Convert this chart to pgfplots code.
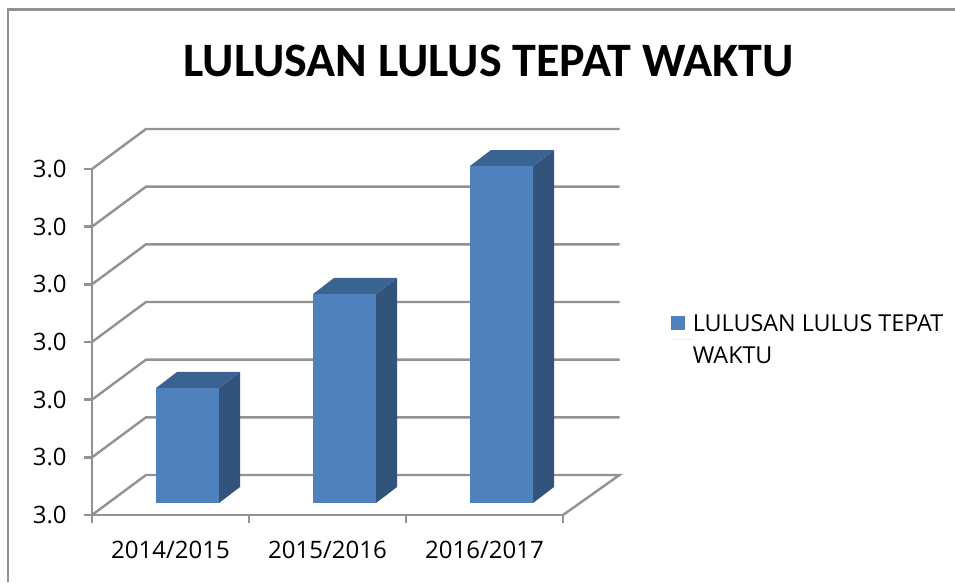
\documentclass[border=0pt]{standalone}
\usepackage{pgfplots}
\pgfplotsset{compat=1.18}
\usepackage{fontspec}
\setmainfont{Open Sans}
\newfontfamily\titlefont{Carlito}
\definecolor{barfront}{HTML}{4F81BD}
\definecolor{barside}{HTML}{32547C}
\definecolor{bartop}{HTML}{3B6391}
\definecolor{gridgray}{HTML}{929292}
\begin{document}
\begin{tikzpicture}
\useasboundingbox (0,0) rectangle (716.25pt,436.5pt);
\fill[white] (0,0) rectangle (716.25pt,436.5pt);
\draw[gridgray,line width=1.9pt] (6pt,0) -- (6pt,429.5pt) -- (716.25pt,429.5pt);
\node[font=\titlefont\bfseries\fontsize{36}{40}\selectfont,anchor=center] at (366.5pt,390.5pt) {LULUSAN LULUS TEPAT WAKTU};
\begin{axis}[
  at={(69pt,50.25pt)},anchor=south west,
  scale only axis,width=353.25pt,height=259.5pt,
  xmin=0,xmax=3,ymin=2.97,ymax=3.03,
  clip=false,
  axis lines=left,
  axis line style={-,gridgray,line width=1.8pt},
  tick style={gridgray,line width=1.8pt},
  tick align=outside,
  major tick length=6pt,
  minor tick length=6pt,
  xtick={0.5,1.5,2.5},
  xticklabels={2014/2015,2015/2016,2016/2017},
  minor xtick={0,1,2,3},
  x tick style={draw=none},
  minor x tick style={draw=gridgray,line width=1.8pt},
  ytick={2.97,2.98,2.99,3.00,3.01,3.02,3.03},
  /pgf/number format/assume math mode=true,
  yticklabel style={/pgf/number format/fixed,/pgf/number format/fixed zerofill,/pgf/number format/precision=1,xshift=-9.5pt,font=\fontsize{18}{20}\selectfont},
  xticklabel style={font=\fontsize{18}{20}\selectfont,yshift=-10pt,xshift=0pt},
  legend style={at={(axis cs:3.685,3.0004)},anchor=west,draw=none,fill=none,inner sep=0pt,
    nodes={align=left,font=\fontsize{17.5}{24}\selectfont,inner sep=0pt}},
  legend image code/.code={\fill[barfront] (0pt,7pt) rectangle (10.5pt,17.5pt);\path (0pt,0pt) -- (16.5pt,0pt);},
]
% walls and floor: gridlines
\addplot[forget plot,gridgray,line width=1.8pt] coordinates {(0,2.97) (0.344,2.97694) (3.36,2.97694) (3,2.97)};
\addplot[forget plot,gridgray,line width=1.8pt] coordinates {(0,2.98) (0.344,2.98694) (3.36,2.98694)};
\addplot[forget plot,gridgray,line width=1.8pt] coordinates {(0,2.99) (0.344,2.99694) (3.36,2.99694)};
\addplot[forget plot,gridgray,line width=1.8pt] coordinates {(0,3.00) (0.344,3.00694) (3.36,3.00694)};
\addplot[forget plot,gridgray,line width=1.8pt] coordinates {(0,3.01) (0.344,3.01694) (3.36,3.01694)};
\addplot[forget plot,gridgray,line width=1.8pt] coordinates {(0,3.02) (0.344,3.02694) (3.36,3.02694)};
\addplot[forget plot,gridgray,line width=1.8pt] coordinates {(0,3.03) (0.344,3.03694) (3.36,3.03694)};
% bar 1
\addplot[forget plot,fill=barside,draw=none] coordinates {(0.809,2.97208) (0.943,2.97486) (0.943,2.99480) (0.809,2.99202)} --cycle;
\addplot[forget plot,fill=bartop,draw=none] coordinates {(0.408,2.99202) (0.541,2.99480) (0.943,2.99480) (0.809,2.99202)} --cycle;
\addplot[fill=barfront,draw=none] coordinates {(0.408,2.97208) (0.809,2.97208) (0.809,2.99202) (0.408,2.99202)} --cycle;
\addlegendentry{LULUSAN LULUS TEPAT\\WAKTU}
% bar 2
\addplot[forget plot,fill=barside,draw=none] coordinates {(1.809,2.97208) (1.943,2.97486) (1.943,3.01110) (1.809,3.00832)} --cycle;
\addplot[forget plot,fill=bartop,draw=none] coordinates {(1.408,3.00832) (1.541,3.01110) (1.943,3.01110) (1.809,3.00832)} --cycle;
\addplot[forget plot,fill=barfront,draw=none] coordinates {(1.408,2.97208) (1.809,2.97208) (1.809,3.00832) (1.408,3.00832)} --cycle;
% bar 3
\addplot[forget plot,fill=barside,draw=none] coordinates {(2.809,2.97208) (2.943,2.97486) (2.943,3.03329) (2.809,3.03052)} --cycle;
\addplot[forget plot,fill=bartop,draw=none] coordinates {(2.408,3.03052) (2.541,3.03329) (2.943,3.03329) (2.809,3.03052)} --cycle;
\addplot[forget plot,fill=barfront,draw=none] coordinates {(2.408,2.97208) (2.809,2.97208) (2.809,3.03052) (2.408,3.03052)} --cycle;
\end{axis}
\end{tikzpicture}
\end{document}
